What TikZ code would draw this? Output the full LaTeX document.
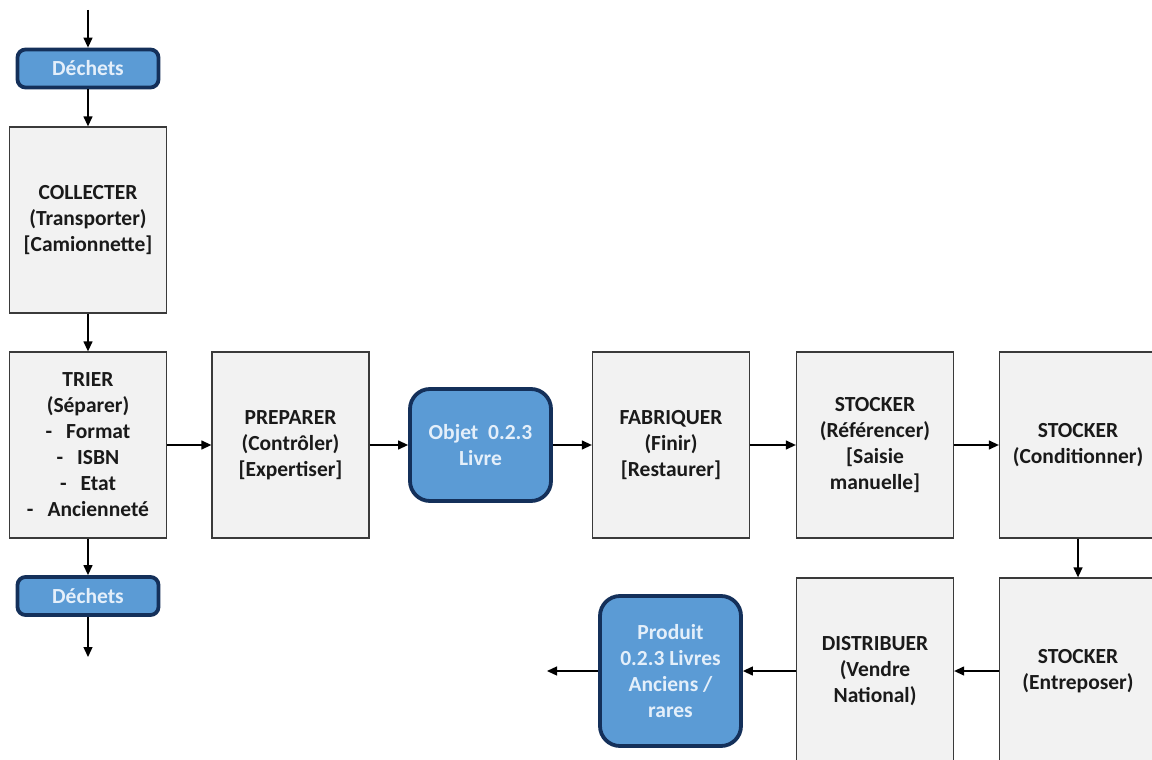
\documentclass[tikz,border=0pt]{standalone}
\usepackage{fontspec}
\setmainfont{Carlito}
\usetikzlibrary{arrows.meta}
\definecolor{boxfill}{HTML}{F2F2F2}
\definecolor{boxline}{HTML}{3A3A3A}
\definecolor{boxtext}{HTML}{1A1A1A}
\definecolor{bluefill}{HTML}{5B9BD5}
\definecolor{blueline}{HTML}{14305A}
\definecolor{bluetext}{HTML}{E4EFFA}
\begin{document}
\begin{tikzpicture}[x=1pt,y=-1pt,
  proc/.style={draw=boxline, line width=1.3pt, fill=boxfill, minimum width=157pt, minimum height=186pt,
    align=center, text=boxtext, font=\bfseries\fontsize{21.5}{26}\selectfont, inner sep=0pt},
  obj/.style={draw=blueline, line width=3.8pt, fill=bluefill, text=bluetext, align=center,
    font=\bfseries\fontsize{21.5}{26}\selectfont, inner sep=0pt},
  arr/.style={draw=black, line width=1.3pt, -{Triangle[length=10pt,width=9pt]}}]
\useasboundingbox (0,0) rectangle (1152,760);
\clip (0,0) rectangle (1152,760);
\fill[white] (0,0) rectangle (1152,760);

% blue nodes
\node[obj, rounded corners=8pt, minimum width=141pt, minimum height=38pt] (d1) at (88,68.5) {Déchets};
\node[obj, rounded corners=8pt, minimum width=141pt, minimum height=38pt] (d2) at (88,596) {Déchets};
\node[obj, rounded corners=20pt, minimum width=141pt, minimum height=112pt] (objet) at (480.5,445) {Objet\ \ 0.2.3\\Livre};
\node[obj, rounded corners=20pt, minimum width=141pt, minimum height=150pt] (prod) at (670.5,671) {Produit\\0.2.3 Livres\\Anciens /\\rares};

% process boxes
\node[proc] (collect) at (88,220) {COLLECTER\\(Transporter)\\{[}Camionnette{]}};
\node[proc] (trier) at (88,445) {TRIER\\(Séparer)\\-\hspace{14pt}Format\\-\hspace{14pt}ISBN\\-\hspace{14pt}Etat\\-\hspace{14pt}Ancienneté};
\node[proc] (prep) at (290.5,445) {PREPARER\\(Contrôler)\\{[}Expertiser{]}};
\node[proc] (fab) at (671,445) {FABRIQUER\\(Finir)\\{[}Restaurer{]}};
\node[proc] (ref) at (875,445) {STOCKER\\(Référencer)\\{[}Saisie\\manuelle{]}};
\node[proc] (cond) at (1078,445) {STOCKER\\(Conditionner)};
\node[proc] (entre) at (1078,671) {STOCKER\\(Entreposer)};
\node[proc] (distr) at (875,671) {DISTRIBUER\\(Vendre\\National)};

% free ends
\coordinate (in) at (88,10);
\coordinate (waste) at (88,657);
\coordinate (out) at (547,671);

% connectors
\draw[arr] (in) -- (d1);
\draw[arr] (d1) -- (collect);
\draw[arr] (collect) -- (trier);
\draw[arr] (trier) -- (d2);
\draw[arr] (d2) -- (waste);
\draw[arr] (trier) -- (prep);
\draw[arr] (prep) -- (objet);
\draw[arr] (objet) -- (fab);
\draw[arr] (fab) -- (ref);
\draw[arr] (ref) -- (cond);
\draw[arr] (cond) -- (entre);
\draw[arr] (entre) -- (distr);
\draw[arr] (distr) -- (prod);
\draw[arr] (prod) -- (out);
\end{tikzpicture}
\end{document}
